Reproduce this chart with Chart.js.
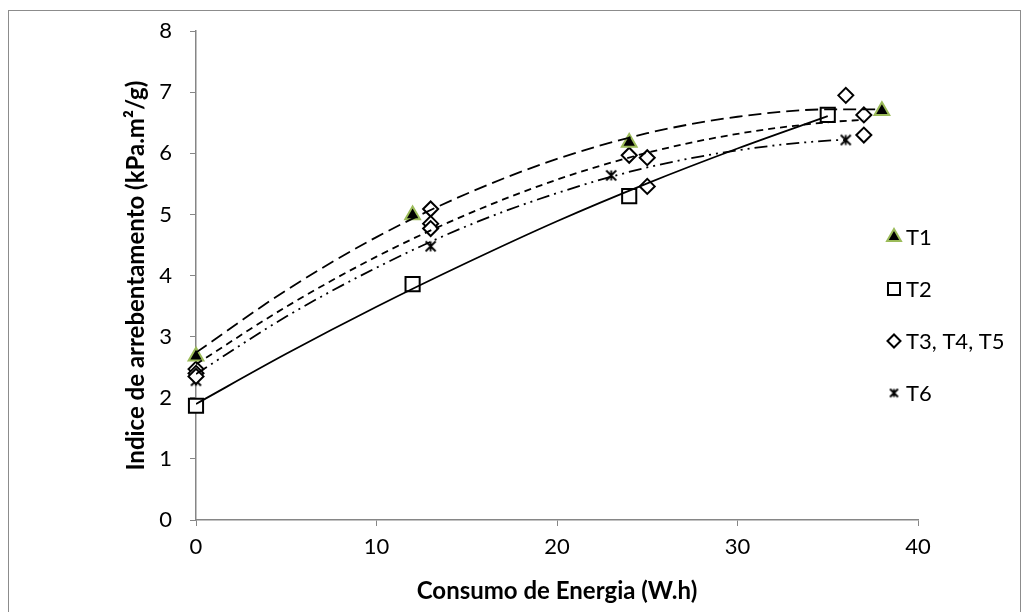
<!DOCTYPE html>
<html lang="pt">
<head>
<meta charset="UTF-8">
<title>Indice de arrebentamento x Consumo de Energia</title>
<script src="https://cdn.jsdelivr.net/npm/chart.js"></script>
<style>
  body { margin: 0; background: #fff; }
  #frame { position: absolute; left: 8px; top: 10px; width: 1011px; height: 640px; border: 1px solid #8c8c8c; }
  #chart { position: absolute; left: 0; top: 0; }
</style>
</head>
<body>
<div id="frame"></div>
<canvas id="chart" width="1027" height="612"></canvas>
<script>
// measured points
const xT1 = [0, 12, 24, 38];
const yT1 = [2.68, 4.99, 6.18, 6.70];
const xT2 = [0, 12, 24, 35];
const yT2 = [1.87, 3.86, 5.30, 6.63];
const xT345 = [0, 0, 0, 13, 13, 13, 24, 25, 25, 36, 37, 37];
const yT345 = [2.47, 2.40, 2.35, 5.09, 4.85, 4.77, 5.97, 5.93, 5.46, 6.95, 6.63, 6.30];
const xT6 = [0, 13, 23, 36];
const yT6 = [2.28, 4.48, 5.64, 6.22];

// trend lines
const trendX1 = [0, 5, 10, 15, 20, 25, 30, 35, 38];
const trendY1 = [2.74, 3.76, 4.63, 5.34, 5.91, 6.33, 6.60, 6.72, 6.72];
const trendX2 = [0, 5, 10, 15, 20, 25, 30, 35];
const trendY2 = [1.90, 2.72, 3.49, 4.21, 4.89, 5.51, 6.08, 6.61];
const trendX345 = [0, 5, 10, 15, 20, 25, 30, 35, 37];
const trendY345 = [2.55, 3.49, 4.31, 5.00, 5.57, 6.01, 6.32, 6.51, 6.55];
const trendX6 = [0, 5, 10, 15, 20, 25, 30, 35, 36];
const trendY6 = [2.39, 3.33, 4.13, 4.81, 5.35, 5.77, 6.05, 6.21, 6.22];

const legendLabels = ['T1', 'T2', 'T3, T4, T5', 'T6'];

const FONT = "Lato, 'Open Sans', sans-serif";
const AXIS_GREY = '#868686';

const pts = (xs, ys) => xs.map((x, i) => ({ x: x, y: ys[i] }));

// excel style star marker: X with a vertical bar
function makeStar(size) {
    const c = document.createElement('canvas');
    c.width = size; c.height = size;
    const g = c.getContext('2d');
    g.strokeStyle = '#000';
    g.lineWidth = 1.8;
    const m = 1.5, s = size - 1.5;
    g.beginPath();
    g.moveTo(m, m); g.lineTo(s, s);
    g.moveTo(s, m); g.lineTo(m, s);
    g.moveTo(size / 2, m); g.lineTo(size / 2, s);
    g.stroke();
    return c;
}
const starImg = makeStar(13);
const starSmall = makeStar(11);

const markerSets = [
    { label: 'T1', data: pts(xT1, yT1), pointStyle: 'triangle', pointRadius: 8.5,
      backgroundColor: '#000', borderColor: '#9bbb59', borderWidth: 2 },
    { label: 'T2', data: pts(xT2, yT2), pointStyle: 'rect', pointRadius: 10,
      backgroundColor: '#fff', borderColor: '#000', borderWidth: 2 },
    { label: 'T3, T4, T5', data: pts(xT345, yT345), pointStyle: 'rectRot', pointRadius: 7.5,
      backgroundColor: '#fff', borderColor: '#000', borderWidth: 2 },
    { label: 'T6', data: pts(xT6, yT6), pointStyle: starImg, pointRadius: 6,
      backgroundColor: '#000', borderColor: '#000', borderWidth: 1 }
].map(d => Object.assign({ clip: false }, d));

const trendSets = [
    { data: pts(trendX1, trendY1), borderDash: [13, 6] },
    { data: pts(trendX2, trendY2), borderDash: [] },
    { data: pts(trendX345, trendY345), borderDash: [7, 5] },
    { data: pts(trendX6, trendY6), borderDash: [13, 5, 2, 5, 2, 5] }
].map(d => Object.assign({
    type: 'line', showLine: true, pointRadius: 0, borderColor: '#000',
    borderWidth: 1.8, fill: false, tension: 0.4, cubicInterpolationMode: 'monotone'
}, d));

// legend drawn inside the plot, on the right
const sideLegend = {
    id: 'sideLegend',
    afterDraw(chart) {
        const ctx = chart.ctx;
        const rows = [237, 289, 341, 393];
        const sizes = [8, 8.5, 6.5, 5.5];
        ctx.save();
        markerSets.forEach((ds, i) => {
            ctx.fillStyle = ds.backgroundColor;
            ctx.strokeStyle = ds.borderColor;
            ctx.lineWidth = ds.borderWidth;
            const style = i === 3 ? starSmall : ds.pointStyle;
            Chart.helpers.drawPoint(ctx, { pointStyle: style, radius: sizes[i], rotation: 0, borderWidth: ds.borderWidth }, 894, rows[i]);
            ctx.fillStyle = '#000';
            ctx.font = '22px ' + FONT;
            ctx.textBaseline = 'middle';
            ctx.fillText(legendLabels[i], 906, rows[i] + 1);
        });
        ctx.restore();
    }
};

new Chart(document.getElementById('chart'), {
    type: 'scatter',
    data: { datasets: trendSets.concat(markerSets) },
    options: {
        responsive: false,
        animation: false,
        layout: { padding: { left: 122, top: 30, right: 109, bottom: 6 } },
        plugins: {
            legend: { display: false },
            tooltip: { enabled: false }
        },
        scales: {
            x: {
                type: 'linear', min: 0, max: 40,
                ticks: { stepSize: 10, color: '#000', font: { family: FONT, size: 22 }, padding: 8 },
                grid: { drawOnChartArea: false, color: AXIS_GREY, tickLength: 6 },
                border: { color: AXIS_GREY, width: 1.5 },
                title: { display: true, text: 'Consumo de Energia (W.h)', color: '#000',
                         font: { family: FONT, size: 24, weight: 'bold' }, padding: { top: 2, bottom: 0 } },
                afterFit(scale) { scale.height = 612 - 520 - 6; }
            },
            y: {
                type: 'linear', min: 0, max: 8,
                ticks: { stepSize: 1, color: '#000', font: { family: FONT, size: 22 }, padding: 18 },
                grid: { drawOnChartArea: false, color: AXIS_GREY, tickLength: 6 },
                border: { color: AXIS_GREY, width: 1.5 },
                title: { display: true, text: 'Indice de arrebentamento (kPa.m²/g)', color: '#000',
                         font: { family: FONT, size: 24, weight: 'bold' }, padding: { top: 0, bottom: 0 } },
                afterFit(scale) { scale.width = 196 - 122; }
            }
        }
    },
    plugins: [sideLegend]
});
</script>
</body>
</html>
